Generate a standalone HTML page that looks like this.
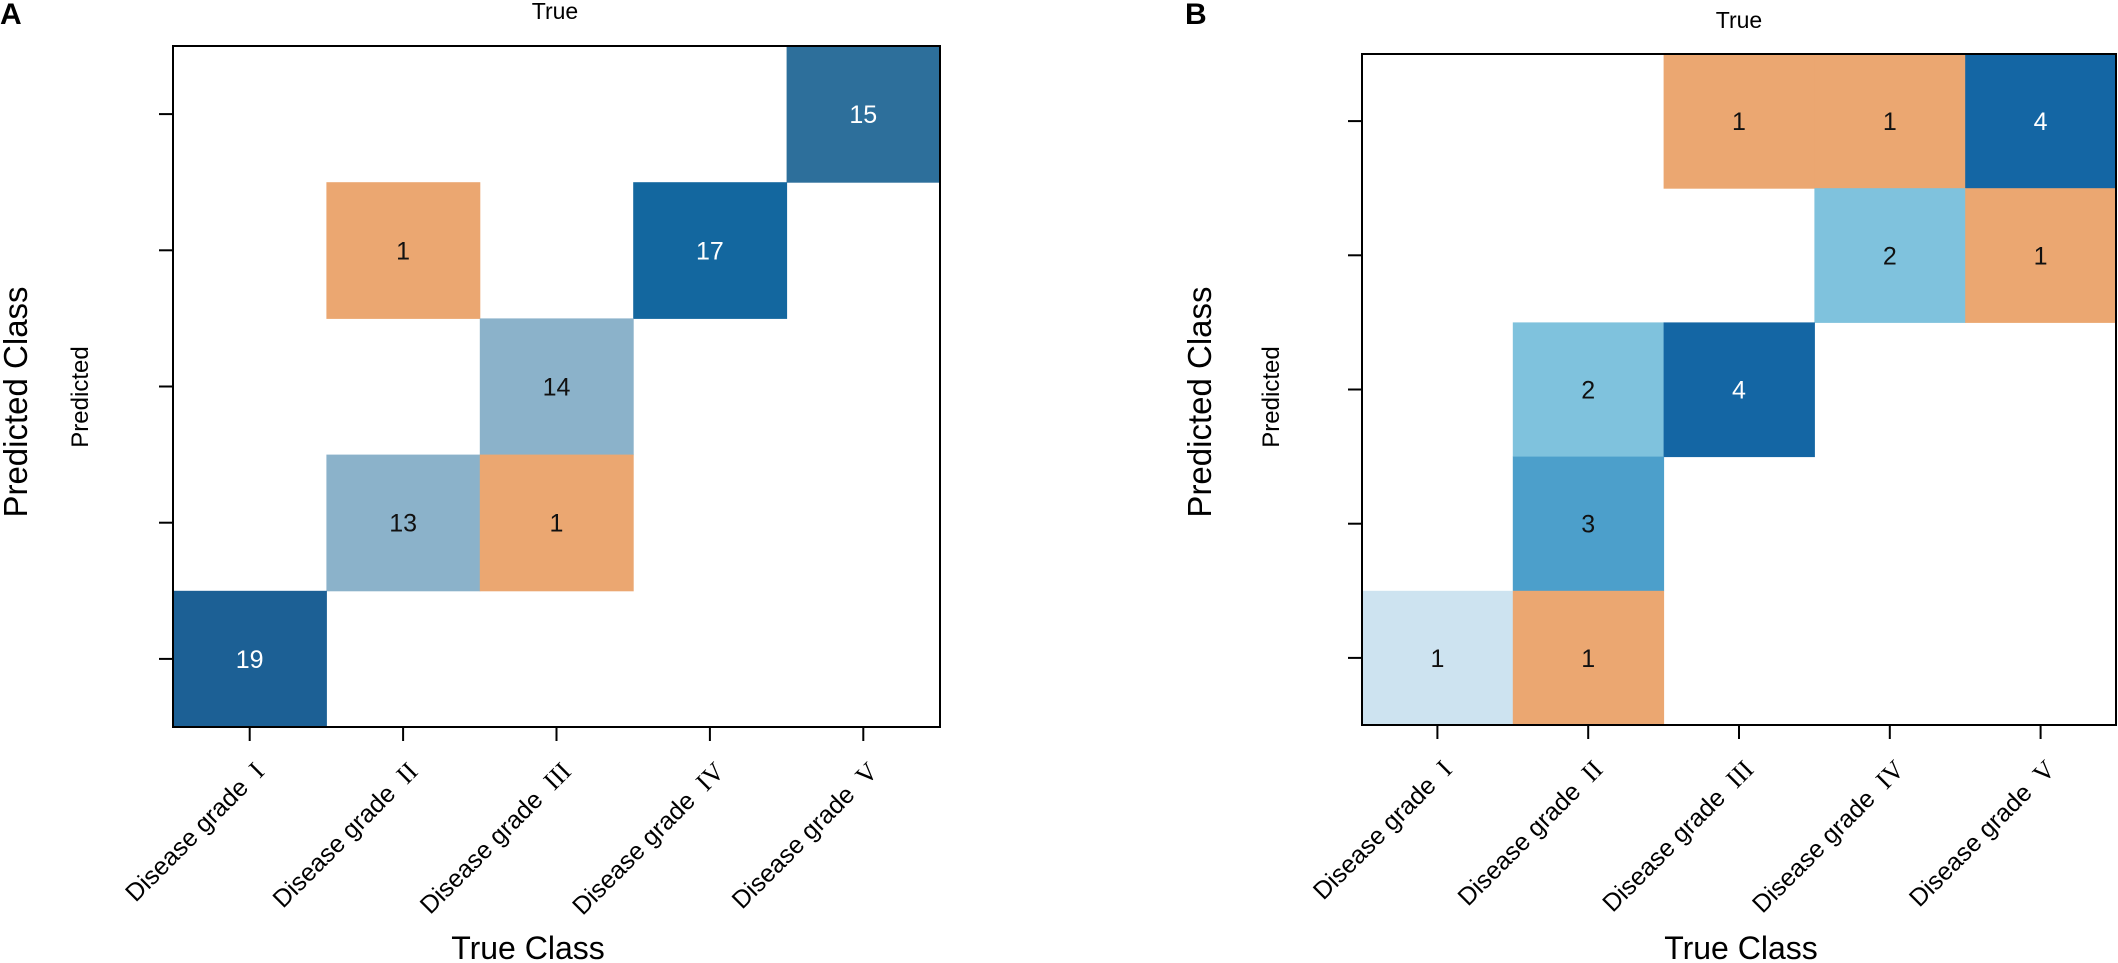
<!DOCTYPE html>
<html><head><meta charset="utf-8">
<style>
html,body{margin:0;padding:0;background:#fff;}
svg{display:block;font-family:"Liberation Sans",Arial,sans-serif;}
</style></head>
<body>
<svg id="chart" width="2118" height="963" viewBox="0 0 2118 963" xmlns="http://www.w3.org/2000/svg">
</svg>
<script>
// Category labels (roman numeral part)
const categories = ["I", "II", "III", "IV", "V"];
// Panel A matrix: rows = predicted (top row = grade V ... bottom = grade I), cols = true grade I..V
const valuesA = [
  [0, 0, 0, 0, 15],
  [0, 1, 0, 17, 0],
  [0, 0, 14, 0, 0],
  [0, 13, 1, 0, 0],
  [19, 0, 0, 0, 0]
];
const colorsA = [
  [null, null, null, null, "#2d6f9b"],
  [null, "#eba771", null, "#13679f", null],
  [null, null, "#8bb2ca", null, null],
  [null, "#8bb2ca", "#eba771", null, null],
  ["#1c6095", null, null, null, null]
];
// Panel B matrix
const valuesB = [
  [0, 0, 1, 1, 4],
  [0, 0, 0, 2, 1],
  [0, 2, 4, 0, 0],
  [0, 3, 0, 0, 0],
  [1, 1, 0, 0, 0]
];
const colorsB = [
  [null, null, "#eba771", "#eba771", "#1466a4"],
  [null, null, null, "#7fc2dd", "#eba771"],
  [null, "#7fc2dd", "#1466a4", null, null],
  [null, "#4c9fcb", null, null, null],
  ["#cde3f0", "#eba771", null, null, null]
];
const textColorA = [
  [0,0,0,0,1],[0,0,0,1,0],[0,0,0,0,0],[0,0,0,0,0],[1,0,0,0,0]
];
const textColorB = [
  [0,0,0,0,1],[0,0,0,0,0],[0,0,1,0,0],[0,0,0,0,0],[0,0,0,0,0]
];

const NS = "http://www.w3.org/2000/svg";
const svg = document.getElementById("chart");
function mk(tag, attrs, parent) {
  const e = document.createElementNS(NS, tag);
  for (const k in attrs) e.setAttribute(k, attrs[k]);
  (parent || svg).appendChild(e);
  return e;
}

function panel(p) {
  const g = mk("g", {});
  
  
  const n = categories.length;
  const cw = (p.x1 - p.x0) / n, ch = (p.y1 - p.y0) / n;
  const xScale = i => p.x0 + i * cw;
  const yScale = r => p.y0 + r * ch;

  for (let r = 0; r < n; r++) {
    for (let c = 0; c < n; c++) {
      const v = p.values[r][c];
      if (!v) continue;
      const rect = mk("rect", {x: xScale(c), y: yScale(r), width: cw + 0.5, height: ch + 0.5, fill: p.colors[r][c] || "#8bb2ca"}, g);
      
      
      const t = mk("text", {x: xScale(c) + cw / 2, y: yScale(r) + ch / 2 + 9, "text-anchor": "middle", "font-size": 25, fill: p.tcol[r][c] ? "#fff" : "#111"}, g);
      t.textContent = v;
      
      
    }
  }
  const frame = mk("rect", {x: p.x0, y: p.y0, width: p.x1 - p.x0, height: p.y1 - p.y0, fill: "none", stroke: "#000", "stroke-width": 2}, g);
  
  

  for (let i = 0; i < n; i++) {
    const yt = yScale(i) + ch / 2;
    const tl = mk("line", {x1: p.x0 - 14, x2: p.x0, y1: yt, y2: yt, stroke: "#000", "stroke-width": 2}, g);
    
    
    const xt = xScale(i) + cw / 2;
    const tx = mk("line", {x1: xt, x2: xt, y1: p.y1, y2: p.y1 + 14, stroke: "#000", "stroke-width": 2}, g);
    
    
    const ax = xt + 16, ay = p.y1 + 46;
    const lab = mk("text", {x: ax, y: ay, "text-anchor": "end", "font-size": 25, transform: "rotate(-45 " + ax + " " + ay + ")"}, g);
    
    
    const s1 = mk("tspan", {}, lab); s1.textContent = "Disease grade";
    const s2 = mk("tspan", {"font-family": "Liberation Serif, serif", "font-size": 26, dx: 14}, lab); s2.textContent = categories[i];
  }
  const tt = mk("text", {x: p.topX, y: p.topY, "text-anchor": "middle", "font-size": 23}, g);
  tt.textContent = "True";
  
  
  const xt2 = mk("text", {x: p.xTitleX, y: 959, "text-anchor": "middle", "font-size": 32}, g);
  xt2.textContent = "True Class";
  
  
  const yt1 = mk("text", {x: p.yTitleX, y: 402, "text-anchor": "middle", "font-size": 33, transform: "rotate(-90 " + p.yTitleX + " 402)"}, g);
  yt1.textContent = "Predicted Class";
  
  
  const yt2 = mk("text", {x: p.predX, y: 397, "text-anchor": "middle", "font-size": 24, transform: "rotate(-90 " + p.predX + " 397)"}, g);
  yt2.textContent = "Predicted";
  
  
  const pl = mk("text", {x: p.labX, y: p.labY, "font-size": 30, "font-weight": "bold"}, g);
  pl.textContent = p.id;
  
  
}

panel({id: "A", x0: 173, x1: 940, y0: 46, y1: 727, values: valuesA, colors: colorsA, tcol: textColorA,
  topX: 555, topY: 19, xTitleX: 528, yTitleX: 27, predX: 88, labX: 0, labY: 24});
panel({id: "B", x0: 1362, x1: 2116, y0: 54, y1: 725, values: valuesB, colors: colorsB, tcol: textColorB,
  topX: 1739, topY: 28, xTitleX: 1741, yTitleX: 1211, predX: 1279, labX: 1185, labY: 24});
</script>
</body></html>
